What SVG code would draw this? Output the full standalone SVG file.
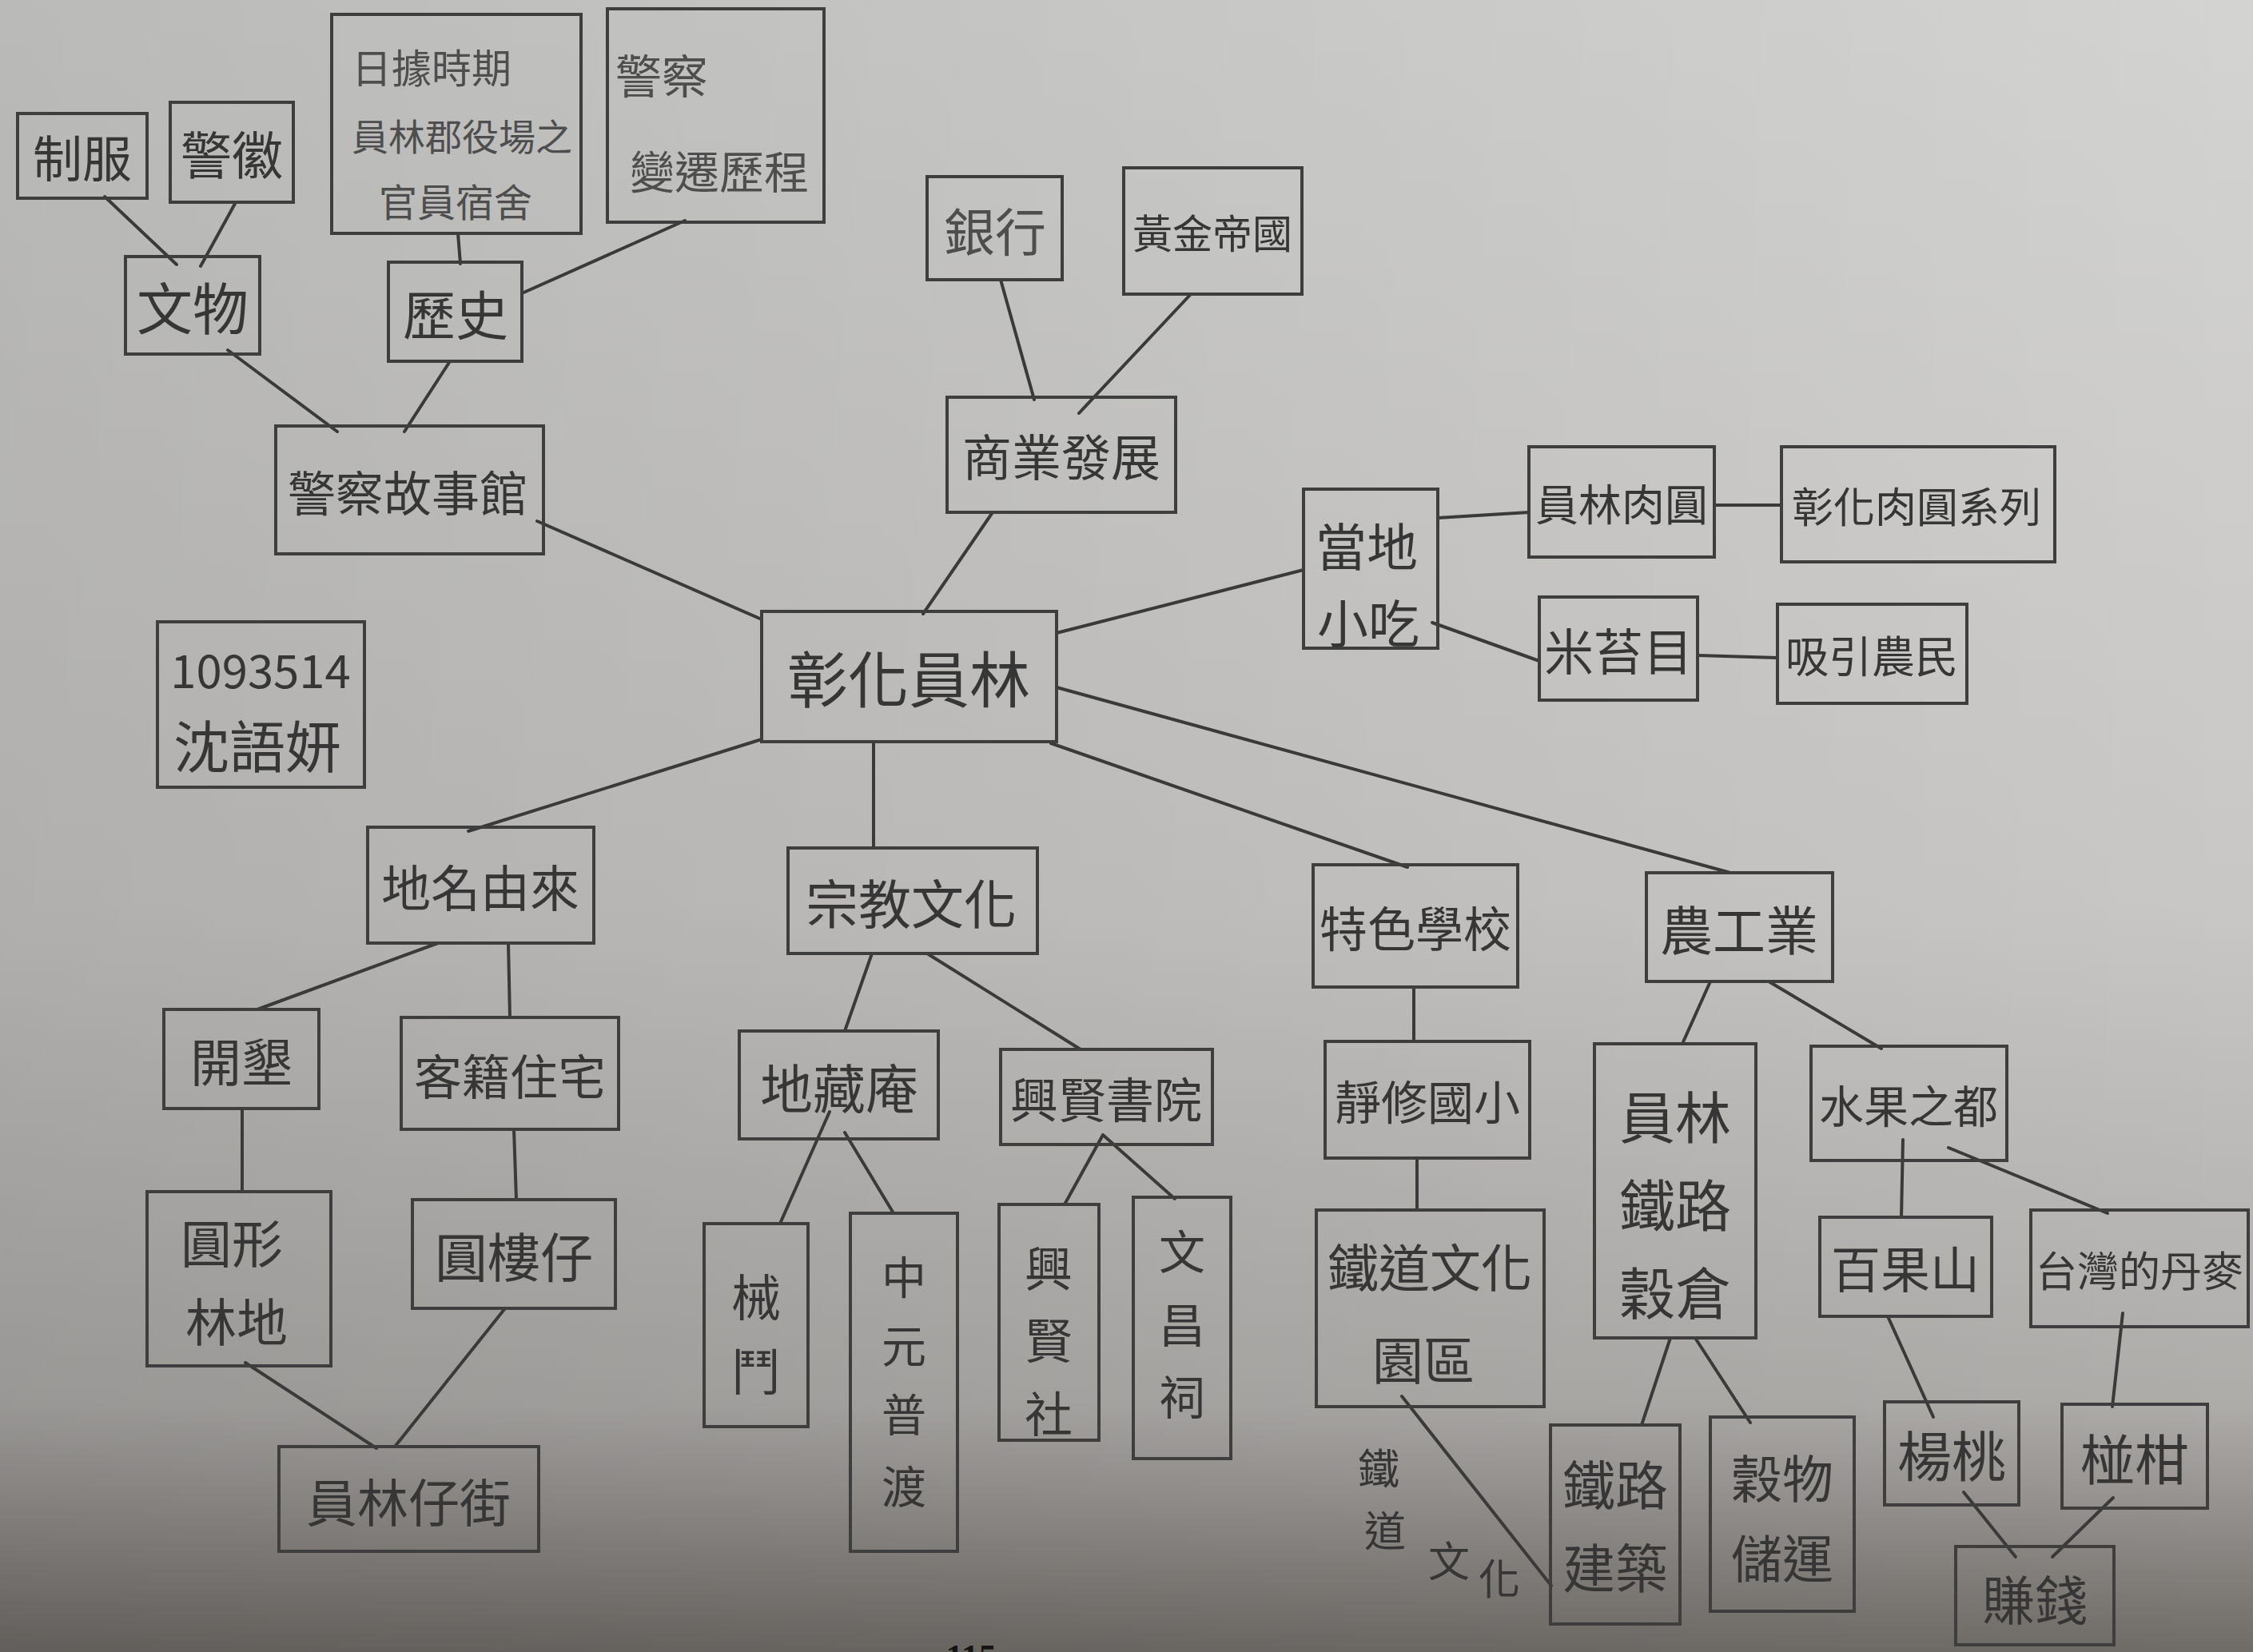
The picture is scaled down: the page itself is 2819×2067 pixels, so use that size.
<svg xmlns="http://www.w3.org/2000/svg" width="2819" height="2067" viewBox="0 0 2819 2067">
<defs>
<linearGradient id="bgv" x1="0" y1="0" x2="0" y2="1">
<stop offset="0" stop-color="#d3d3d1"/>
<stop offset="0.55" stop-color="#c8c7c5"/>
<stop offset="0.85" stop-color="#aeaca9"/>
<stop offset="1" stop-color="#6f6b67"/>
</linearGradient>
<linearGradient id="bgh" x1="1" y1="0" x2="0" y2="0">
<stop offset="0" stop-color="#000" stop-opacity="0"/>
<stop offset="1" stop-color="#000" stop-opacity="0.12"/>
</linearGradient>
<style>
.box{fill:none;stroke:#3e3e3e;stroke-width:4;stroke-linejoin:miter}
.t{font-family:"Noto Sans CJK TC","Noto Sans CJK SC",sans-serif;fill:#363636;text-anchor:middle;dominant-baseline:central}
.lt{fill:#4e4e4e}
.c line{stroke:#3a3a3a;stroke-width:4;stroke-linecap:round}
</style>
</defs>
<rect x="0" y="0" width="2819" height="2067" fill="url(#bgv)"/>
<rect x="0" y="0" width="2819" height="2067" fill="url(#bgh)"/>

<g id="connectors" class="c">
<line x1="131" y1="246" x2="221" y2="331"/>
<line x1="295" y1="253" x2="251" y2="333"/>
<line x1="573" y1="292" x2="576" y2="330"/>
<line x1="857" y1="276" x2="653" y2="367"/>
<line x1="285" y1="438" x2="422" y2="540"/>
<line x1="563" y1="452" x2="506" y2="540"/>
<line x1="672" y1="652" x2="953" y2="775"/>
<line x1="1252" y1="350" x2="1294" y2="500"/>
<line x1="1490" y1="368" x2="1350" y2="517"/>
<line x1="1242" y1="641" x2="1155" y2="768"/>
<line x1="1322" y1="792" x2="1631" y2="713"/>
<line x1="1799" y1="648" x2="1913" y2="641"/>
<line x1="2145" y1="632" x2="2229" y2="632"/>
<line x1="1792" y1="779" x2="1926" y2="827"/>
<line x1="2124" y1="820" x2="2224" y2="823"/>
<line x1="953" y1="925" x2="586" y2="1040"/>
<line x1="1093" y1="928" x2="1093" y2="1061"/>
<line x1="1315" y1="930" x2="1761" y2="1085"/>
<line x1="1322" y1="860" x2="2165" y2="1092"/>
<line x1="548" y1="1180" x2="322" y2="1263"/>
<line x1="636" y1="1180" x2="638" y2="1273"/>
<line x1="303" y1="1387" x2="303" y2="1491"/>
<line x1="643" y1="1413" x2="646" y2="1501"/>
<line x1="307" y1="1705" x2="471" y2="1812"/>
<line x1="632" y1="1637" x2="494" y2="1810"/>
<line x1="1091" y1="1193" x2="1057" y2="1290"/>
<line x1="1160" y1="1193" x2="1352" y2="1313"/>
<line x1="1038" y1="1391" x2="976" y2="1531"/>
<line x1="1057" y1="1417" x2="1118" y2="1518"/>
<line x1="1380" y1="1420" x2="1332" y2="1507"/>
<line x1="1380" y1="1420" x2="1470" y2="1500"/>
<line x1="1769" y1="1235" x2="1769" y2="1303"/>
<line x1="1773" y1="1449" x2="1773" y2="1514"/>
<line x1="1754" y1="1747" x2="1941" y2="1984"/>
<line x1="2140" y1="1228" x2="2105" y2="1306"/>
<line x1="2213" y1="1228" x2="2354" y2="1312"/>
<line x1="2090" y1="1674" x2="2054" y2="1783"/>
<line x1="2121" y1="1674" x2="2190" y2="1780"/>
<line x1="2381" y1="1426" x2="2379" y2="1523"/>
<line x1="2438" y1="1436" x2="2637" y2="1518"/>
<line x1="2362" y1="1647" x2="2419" y2="1773"/>
<line x1="2656" y1="1643" x2="2643" y2="1760"/>
<line x1="2457" y1="1867" x2="2522" y2="1948"/>
<line x1="2644" y1="1874" x2="2568" y2="1948"/>
</g>

<g id="label-tiedao">
<text class="t" font-size="52" x="1725" y="1834">鐵</text>
<text class="t" font-size="52" x="1733" y="1912">道</text>
<text class="t" font-size="52" x="1813" y="1950">文</text>
<text class="t" font-size="52" x="1876" y="1972">化</text>
</g>

<g id="n-zhifu"><rect class="box" x="22" y="142" width="162" height="106"/><text class="t" font-size="62" x="103" y="195">制服</text></g>
<g id="n-jinghui"><rect class="box" x="213" y="128" width="154" height="125"/><text class="t" font-size="64" x="290" y="190">警徽</text></g>
<g id="n-wenwu"><rect class="box" x="157" y="321" width="168" height="122"/><text class="t" font-size="70" x="241" y="382">文物</text></g>
<g id="n-riju"><rect class="box" x="415" y="18" width="312" height="274"/>
<text class="t lt" font-size="50" x="540" y="82">日據時期</text>
<text class="t lt" font-size="46" x="578" y="168">員林郡役場之</text>
<text class="t lt" font-size="48" x="570" y="250">官員宿舍</text></g>
<g id="n-bianqian"><rect class="box" x="760" y="11" width="271" height="267"/>
<text class="t lt" font-size="58" x="828" y="92">警察</text>
<text class="t lt" font-size="56" x="900" y="211">變遷歷程</text></g>
<g id="n-lishi"><rect class="box" x="486" y="328" width="167" height="124"/><text class="t" font-size="66" x="570" y="390">歷史</text></g>
<g id="n-gushiguan"><rect class="box" x="345" y="533" width="335" height="160"/><text class="t" font-size="60" x="510" y="613">警察故事館</text></g>

<g id="n-yinhang"><rect class="box" x="1160" y="221" width="169" height="129"/><text class="t lt" font-size="64" x="1245" y="286">銀行</text></g>
<g id="n-huangjin"><rect class="box" x="1406" y="210" width="223" height="158"/><text class="t" font-size="50" x="1517" y="289">黃金帝國</text></g>
<g id="n-shangye"><rect class="box" x="1185" y="497" width="286" height="144"/><text class="t" font-size="62" x="1328" y="569">商業發展</text></g>
<g id="n-chixiao"><rect class="box" x="1631" y="612" width="168" height="199"/>
<text class="t" font-size="64" x="1710" y="680">當地</text>
<text class="t" font-size="64" x="1712" y="776">小吃</text></g>
<g id="n-rouyuan"><rect class="box" x="1913" y="559" width="232" height="138"/><text class="t" font-size="54" x="2029" y="628">員林肉圓</text></g>
<g id="n-xilie"><rect class="box" x="2229" y="559" width="342" height="144"/><text class="t" font-size="52" x="2398" y="631">彰化肉圓系列</text></g>
<g id="n-mitaimu"><rect class="box" x="1926" y="747" width="198" height="129"/><text class="t" font-size="62" x="2025" y="812">米苔目</text></g>
<g id="n-xiyin"><rect class="box" x="2224" y="756" width="237" height="124"/><text class="t" font-size="54" x="2342" y="818">吸引農民</text></g>

<g id="n-center"><rect class="box" x="953" y="765" width="369" height="163"/><text class="t" font-size="76" x="1137" y="846">彰化員林</text></g>
<g id="n-id"><rect class="box" x="197" y="778" width="259" height="207"/>
<text class="t" font-size="58" x="326" y="836">1093514</text>
<text class="t" font-size="70" x="322" y="930">沈語妍</text></g>

<g id="n-diming"><rect class="box" x="460" y="1035" width="283" height="145"/><text class="t" font-size="62" x="601" y="1108">地名由來</text></g>
<g id="n-zongjiao"><rect class="box" x="986" y="1061" width="312" height="132"/><text class="t" font-size="66" x="1140" y="1127">宗教文化</text></g>
<g id="n-kaiken"><rect class="box" x="205" y="1263" width="194" height="124"/><text class="t" font-size="64" x="302" y="1325">開墾</text></g>
<g id="n-kejia"><rect class="box" x="502" y="1273" width="272" height="140"/><text class="t" font-size="60" x="638" y="1343">客籍住宅</text></g>
<g id="n-yuanxing"><rect class="box" x="184" y="1491" width="230" height="218"/>
<text class="t" font-size="64" x="290" y="1552">圓形</text>
<text class="t" font-size="64" x="296" y="1650">林地</text></g>
<g id="n-yuanlou"><rect class="box" x="516" y="1501" width="254" height="136"/><text class="t" font-size="66" x="643" y="1569">圓樓仔</text></g>
<g id="n-jie"><rect class="box" x="349" y="1810" width="325" height="131"/><text class="t" font-size="64" x="511" y="1876">員林仔街</text></g>

<g id="n-dizang"><rect class="box" x="925" y="1290" width="249" height="135"/><text class="t" font-size="66" x="1050" y="1358">地藏庵</text></g>
<g id="n-xiedou"><rect class="box" x="881" y="1531" width="130" height="254"/>
<text class="t" font-size="62" x="946" y="1620">械</text>
<text class="t" font-size="62" x="946" y="1713">鬥</text></g>
<g id="n-zhongyuan"><rect class="box" x="1064" y="1518" width="134" height="423"/>
<text class="t" font-size="56" x="1131" y="1594">中</text>
<text class="t" font-size="56" x="1131" y="1680">元</text>
<text class="t" font-size="56" x="1131" y="1766">普</text>
<text class="t" font-size="56" x="1131" y="1856">渡</text></g>
<g id="n-xingxian"><rect class="box" x="1252" y="1313" width="265" height="119"/><text class="t" font-size="60" x="1384" y="1372">興賢書院</text></g>
<g id="n-xingxianshe"><rect class="box" x="1250" y="1507" width="125" height="295"/>
<text class="t" font-size="60" x="1312" y="1583">興</text>
<text class="t" font-size="60" x="1312" y="1673">賢</text>
<text class="t" font-size="60" x="1312" y="1765">社</text></g>
<g id="n-wenchang"><rect class="box" x="1418" y="1498" width="122" height="327"/>
<text class="t" font-size="58" x="1479" y="1563">文</text>
<text class="t" font-size="58" x="1479" y="1655">昌</text>
<text class="t" font-size="58" x="1479" y="1745">祠</text></g>

<g id="n-tese"><rect class="box" x="1643" y="1082" width="256" height="153"/><text class="t" font-size="60" x="1771" y="1158">特色學校</text></g>
<g id="n-nonggong"><rect class="box" x="2060" y="1092" width="233" height="136"/><text class="t" font-size="66" x="2176" y="1160">農工業</text></g>
<g id="n-jingxiu"><rect class="box" x="1658" y="1303" width="256" height="146"/><text class="t" font-size="58" x="1786" y="1376">靜修國小</text></g>
<g id="n-tiedaoyuan"><rect class="box" x="1647" y="1514" width="285" height="246"/>
<text class="t" font-size="64" x="1789" y="1582">鐵道文化</text>
<text class="t" font-size="64" x="1781" y="1698">園區</text></g>
<g id="n-gucang"><rect class="box" x="1995" y="1306" width="202" height="368"/>
<text class="t" font-size="70" x="2096" y="1394">員林</text>
<text class="t" font-size="70" x="2096" y="1504">鐵路</text>
<text class="t" font-size="70" x="2096" y="1614">穀倉</text></g>
<g id="n-shuiguo"><rect class="box" x="2266" y="1309" width="245" height="143"/><text class="t" font-size="56" x="2388" y="1380">水果之都</text></g>
<g id="n-baiguo"><rect class="box" x="2277" y="1523" width="215" height="124"/><text class="t" font-size="62" x="2384" y="1585">百果山</text></g>
<g id="n-danmai"><rect class="box" x="2541" y="1514" width="272" height="146"/><text class="t" font-size="52" x="2677" y="1587">台灣的丹麥</text></g>
<g id="n-jianzhu"><rect class="box" x="1940" y="1783" width="162" height="249"/>
<text class="t" font-size="66" x="2021" y="1854">鐵路</text>
<text class="t" font-size="66" x="2021" y="1958">建築</text></g>
<g id="n-chuyun"><rect class="box" x="2140" y="1773" width="180" height="243"/>
<text class="t" font-size="64" x="2230" y="1846">穀物</text>
<text class="t" font-size="64" x="2230" y="1946">儲運</text></g>
<g id="n-yangtao"><rect class="box" x="2358" y="1754" width="168" height="129"/><text class="t" font-size="68" x="2442" y="1818">楊桃</text></g>
<g id="n-penggan"><rect class="box" x="2580" y="1757" width="182" height="130"/><text class="t" font-size="68" x="2671" y="1822">椪柑</text></g>
<g id="n-zhuanqian"><rect class="box" x="2447" y="1935" width="198" height="123"/><text class="t" font-size="66" x="2546" y="1998">賺錢</text></g>

<text x="1215" y="2088" font-family="Liberation Serif, serif" font-weight="bold" font-size="44" fill="#151515" text-anchor="middle">115</text>
</svg>
